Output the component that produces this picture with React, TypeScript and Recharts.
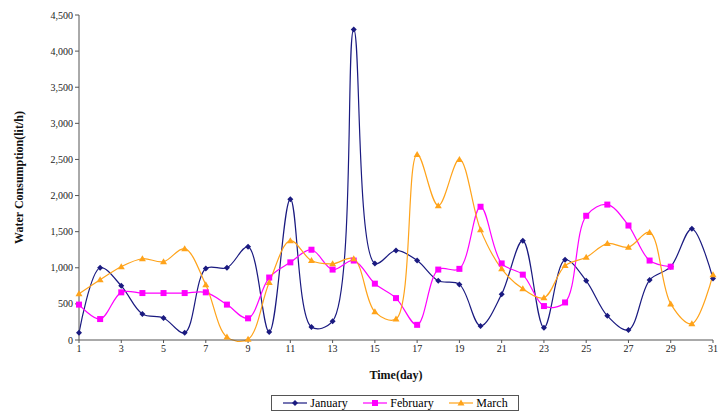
import React from "react";
import { LineChart, Line, XAxis, YAxis, Legend } from "recharts";

const days = [1,2,3,4,5,6,7,8,9,10,11,12,13,14,15,16,17,18,19,20,21,22,23,24,25,26,27,28,29,30,31];
const january = [100,1000,750,360,305,100,990,1000,1290,110,1950,180,260,4300,1060,1240,1100,820,770,195,635,1375,170,1110,820,335,140,830,1015,1540,850];
const february = [490,290,660,650,650,650,660,490,300,865,1075,1250,975,1100,780,580,210,975,985,1845,1060,905,470,520,1720,1875,1585,1100,1015];
const march = [640,835,1015,1125,1085,1265,765,40,10,795,1375,1100,1055,1125,390,290,2570,1860,2500,1525,985,710,585,1030,1145,1335,1285,1490,500,225,905];
const xTicks = [1,3,5,7,9,11,13,15,17,19,21,23,25,27,29,31];
const yTicks = [0,500,1000,1500,2000,2500,3000,3500,4000,4500];

const data = days.map((d, i) => ({
  day: d,
  January: january[i],
  February: february[i],
  March: march[i],
}));

const smoothCurve = (ctx: any) => {
  let pts: number[][] = [];
  const dist = (a: number[], b: number[]) => Math.hypot(a[0] - b[0], a[1] - b[1]);
  return {
    areaStart() {},
    areaEnd() {},
    lineStart() { pts = []; },
    point(x: number, y: number) { pts.push([+x, +y]); },
    lineEnd() {
      if (!pts.length) return;
      ctx.moveTo(pts[0][0], pts[0][1]);
      for (let i = 0; i < pts.length - 1; i++) {
        const p0 = pts[i - 1];
        const p1 = pts[i];
        const p2 = pts[i + 1];
        const p3 = pts[i + 2];
        const d01 = p0 ? dist(p0, p1) : 0;
        const d12 = dist(p1, p2);
        const d23 = p3 ? dist(p2, p3) : 0;
        const la01 = Math.sqrt(d01), la12 = Math.sqrt(d12), la23 = Math.sqrt(d23);
        let c1 = [p1[0], p1[1]];
        let c2 = [p2[0], p2[1]];
        if (p0 && la01 > 1e-6) {
          const a = 2 * d01 + 3 * la01 * la12 + d12;
          const n = 3 * la01 * (la01 + la12);
          c1 = [(p1[0] * a - p0[0] * d12 + p2[0] * d01) / n, (p1[1] * a - p0[1] * d12 + p2[1] * d01) / n];
        }
        if (p3 && la23 > 1e-6) {
          const b = 2 * d23 + 3 * la23 * la12 + d12;
          const m = 3 * la23 * (la23 + la12);
          c2 = [(p2[0] * b + p1[0] * d23 - p3[0] * d12) / m, (p2[1] * b + p1[1] * d23 - p3[1] * d12) / m];
        }
        ctx.bezierCurveTo(c1[0], c1[1], c2[0], c2[1], p2[0], p2[1]);
      }
    },
  };
};

const COL_JAN = "#1a1a80";
const COL_FEB = "#ff00ff";
const COL_MAR = "#ffa31a";

const Diamond = (props: any) => {
  const { cx, cy } = props;
  if (cx == null || cy == null || isNaN(cy)) return null;
  return <path d={`M${cx},${cy - 3}L${cx + 3},${cy}L${cx},${cy + 3}L${cx - 3},${cy}Z`} fill={COL_JAN} />;
};
const Square = (props: any) => {
  const { cx, cy } = props;
  if (cx == null || cy == null || isNaN(cy)) return null;
  return <rect x={cx - 3} y={cy - 3} width={6} height={6} fill={COL_FEB} />;
};
const Triangle = (props: any) => {
  const { cx, cy } = props;
  if (cx == null || cy == null || isNaN(cy)) return null;
  return <path d={`M${cx},${cy - 3.5}L${cx + 3.5},${cy + 2.5}L${cx - 3.5},${cy + 2.5}Z`} fill={COL_MAR} />;
};

const legendItems = [
  { name: "January", color: COL_JAN, kind: "d" },
  { name: "February", color: COL_FEB, kind: "s" },
  { name: "March", color: COL_MAR, kind: "t" },
];

const LegendBox = () => (
  <div style={{ border: "1px solid #555", height: 16, display: "flex", alignItems: "center", justifyContent: "space-around", fontFamily: "'Liberation Serif', serif", fontSize: 12, background: "#fff", boxSizing: "border-box", padding: "0 3px" }}>
    {legendItems.map((it) => (
      <span key={it.name} style={{ display: "flex", alignItems: "center" }}>
        <svg width={26} height={10}>
          <line x1={1} y1={5} x2={25} y2={5} stroke={it.color} strokeWidth={1.2} />
          {it.kind === "d" && <path d="M13,2L16,5L13,8L10,5Z" fill={it.color} />}
          {it.kind === "s" && <rect x={10} y={2} width={6} height={6} fill={it.color} />}
          {it.kind === "t" && <path d="M13,1.5L16.5,7.5L9.5,7.5Z" fill={it.color} />}
        </svg>
        <span style={{ marginLeft: 2 }}>{it.name}</span>
      </span>
    ))}
  </div>
);

const tickStyle = { fontFamily: "'Liberation Serif', serif", fontSize: 10, fill: "#222" };

export default function App() {
  return (
    <div style={{ position: "absolute", left: 0, top: 0, background: "#fff" }}>
      <LineChart width={727} height={412} data={data} margin={{ top: 15, right: 14, left: 29, bottom: 1 }}>
        <XAxis
          dataKey="day"
          type="number"
          domain={[1, 31]}
          ticks={xTicks}
          interval={0}
          tick={tickStyle}
          tickSize={3}
          stroke="#555"
          height={55}
          label={{ value: "Time(day)", position: "insideTop", offset: 30, style: { fontFamily: "'Liberation Serif', serif", fontSize: 12, fontWeight: "bold", fill: "#111" } }}
        />
        <YAxis
          domain={[0, 4500]}
          ticks={yTicks}
          interval={0}
          width={50}
          tick={tickStyle}
          tickSize={4}
          stroke="#555"
          tickFormatter={(v: number) => v.toLocaleString("en-US")}
          label={{ value: "Water Consumption(lit/h)", angle: -90, position: "insideLeft", offset: -10, style: { fontFamily: "'Liberation Serif', serif", fontSize: 12, fontWeight: "bold", fill: "#111", textAnchor: "middle" } }}
        />
        <Legend verticalAlign="bottom" content={<LegendBox />} wrapperStyle={{ left: 271, width: 248, bottom: 1 }} />
        <Line dataKey="January" type={smoothCurve as any} stroke={COL_JAN} strokeWidth={1.2} dot={<Diamond />} activeDot={false} isAnimationActive={false} connectNulls={false} />
        <Line dataKey="February" type={smoothCurve as any} stroke={COL_FEB} strokeWidth={1.2} dot={<Square />} activeDot={false} isAnimationActive={false} connectNulls={false} />
        <Line dataKey="March" type={smoothCurve as any} stroke={COL_MAR} strokeWidth={1.2} dot={<Triangle />} activeDot={false} isAnimationActive={false} connectNulls={false} />
      </LineChart>
    </div>
  );
}
